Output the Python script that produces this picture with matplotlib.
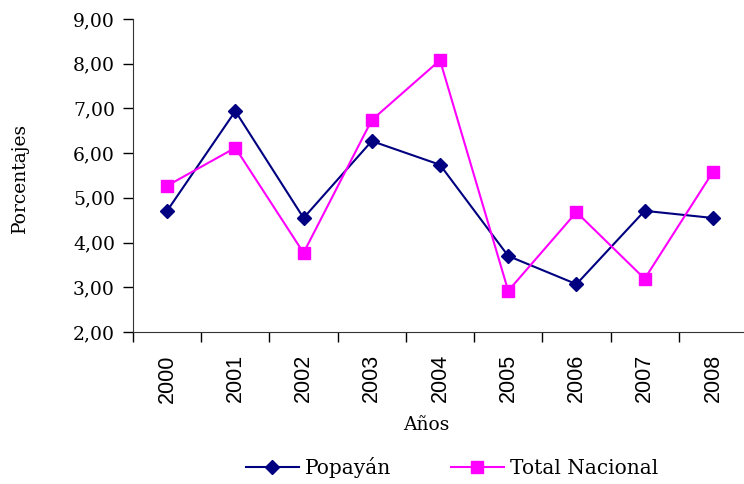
import numpy as np
import matplotlib.pyplot as plt
from matplotlib.ticker import FuncFormatter

# data
years = ["2000", "2001", "2002", "2003", "2004", "2005", "2006", "2007", "2008"]
popayan = [4.71, 6.94, 4.55, 6.27, 5.74, 3.70, 3.07, 4.71, 4.55]
nacional = [5.27, 6.12, 3.77, 6.74, 8.08, 2.92, 4.68, 3.19, 5.58]

serif = "DejaVu Serif"
sans = "Liberation Sans"

fig = plt.figure(figsize=(7.44, 4.84), dpi=100)
ax = fig.add_axes([133 / 744, 152 / 484, 614 / 744, 313 / 484])

x = np.arange(len(years))
ax.plot(x, popayan, color="#000080", lw=1.5, marker="D", ms=7,
        label="Popayán")
ax.plot(x, nacional, color="#FF00FF", lw=1.5, marker="s", ms=8,
        label="Total Nacional")

ax.set_xlim(-0.5, len(years) - 0.5)
ax.set_ylim(2, 9)
ax.set_yticks(np.arange(2, 10, 1))
ax.yaxis.set_major_formatter(FuncFormatter(lambda v, p: f"{v:.2f}".replace(".", ",")))
for lab in ax.get_yticklabels():
    lab.set_fontfamily(serif)
    lab.set_fontsize(13.5)

# category labels centred, ticks on boundaries
ax.set_xticks(x)
ax.set_xticklabels(years, rotation=90, fontfamily=sans, fontsize=15.5)
ax.tick_params(axis="x", which="major", length=0, pad=16)
ax.set_xticks(np.arange(-0.5, len(years), 1), minor=True)
ax.tick_params(axis="x", which="minor", length=7, width=1, direction="out")
ax.tick_params(axis="y", length=7, width=1, direction="out", pad=6)

for s in ["top", "right"]:
    ax.spines[s].set_visible(False)
for s in ["left", "bottom"]:
    ax.spines[s].set_color("#333333")

fig.text(20 / 744, 1 - 178 / 484, "Porcentajes", rotation=90, ha="center",
         va="center", fontfamily=serif, fontsize=13.5)
fig.text(426 / 744, 1 - 425 / 484, "Años", ha="center", va="center",
         fontfamily=serif, fontsize=13.5)

fig.legend(loc="center", bbox_to_anchor=(452 / 744, 16 / 484), ncol=2,
           frameon=False, handlelength=2.6, handletextpad=0.3,
           columnspacing=3.0, prop={"family": serif, "size": 14.5})

fig.savefig("out.png", dpi=100)
